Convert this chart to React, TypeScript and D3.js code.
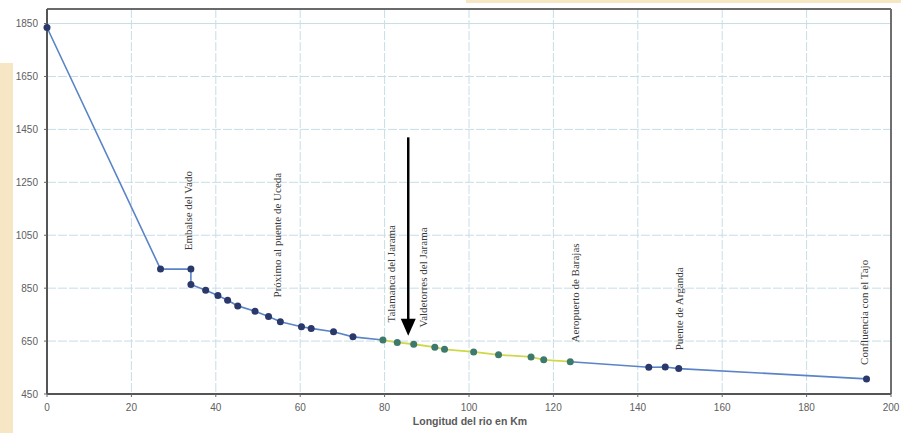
import React from "react";
import * as d3 from "d3";

// Distance along river (km) and elevation (m)
const kmBlue1 = [0, 26.9, 34.1, 34.1, 37.6, 40.5, 42.8, 45.2, 49.3, 52.5, 55.3, 60.3, 62.6, 67.9, 72.5, 79.6];
const elevBlue1 = [1835, 922, 922, 864, 842, 822, 804, 783, 763, 743, 723, 704, 698, 685, 666, 654];
const kmGreen = [79.6, 83.0, 86.9, 91.9, 94.2, 101.1, 107.0, 114.7, 117.7, 124.0];
const elevGreen = [654, 645, 638, 627, 619, 609, 598, 590, 579, 572];
const kmBlue2 = [124.0, 142.6, 146.5, 149.7, 194.2];
const elevBlue2 = [572, 551, 552, 546, 507];

const xTicks = [0, 20, 40, 60, 80, 100, 120, 140, 160, 180, 200];
const yTicks = [450, 650, 850, 1050, 1250, 1450, 1650, 1850];

const labelNames = [
  "Embalse del Vado",
  "Próximo al puente de Uceda",
  "Talamanca del Jarama",
  "Valdetorres del Jarama",
  "Aeropuerto de Barajas",
  "Puente de Arganda",
  "Confluencia con el Tajo",
];
const labelKm = [33.4, 54.4, 81.4, 89.0, 125.0, 149.8, 193.6];
const labelElev = [993, 815, 720, 701, 645, 615, 560];

const arrowKm = 85.6;
const arrowFrom = 1420;
const arrowTo = 670;

const xTitle = "Longitud del rio en Km";

export default function App() {
  const W = 901;
  const H = 433;
  const x = d3.scaleLinear().domain([0, 200]).range([47, 891]);
  const y = d3.scaleLinear().domain([450, 1905]).range([394, 9]);

  const line = d3
    .line<[number, number]>()
    .x((d) => x(d[0]))
    .y((d) => y(d[1]));

  const blue1 = kmBlue1.map((k, i) => [k, elevBlue1[i]] as [number, number]);
  const green = kmGreen.map((k, i) => [k, elevGreen[i]] as [number, number]);
  const blue2 = kmBlue2.map((k, i) => [k, elevBlue2[i]] as [number, number]);

  const gridColor = "#c6dee6";
  const lineBlue = "#5a84c6";
  const ptNavy = "#2b386c";
  const lineGreen = "#cfd84a";
  const ptGreen = "#3e7a6c";

  const ax = x(arrowKm);
  const ay1 = y(arrowFrom);
  const ay2 = y(arrowTo);

  return (
    <div style={{ position: "absolute", left: 0, top: 0, width: W, height: H, background: "#fff" }}>
      <svg width={W} height={H} style={{ display: "block" }}>
        <rect x={0} y={0} width={W} height={H} fill="#ffffff" />
        {/* beige scan edges */}
        <rect x={466} y={0} width={W - 466} height={3} fill="#f6e6c3" />

        {/* grid */}
        {xTicks.slice(1, -1).map((t) => (
          <line key={"gx" + t} x1={x(t)} x2={x(t)} y1={y(1905)} y2={y(450)} stroke={gridColor} strokeWidth={1} strokeDasharray="9,2" />
        ))}
        {yTicks.slice(1).map((t) => (
          <line key={"gy" + t} x1={x(0)} x2={x(200)} y1={y(t)} y2={y(t)} stroke={gridColor} strokeWidth={1} strokeDasharray={t === 1850 ? undefined : "9,2"} />
        ))}

        {/* frame */}
        <line x1={x(0)} x2={x(200)} y1={y(1905)} y2={y(1905)} stroke="#6a6a6a" strokeWidth={2} />
        <line x1={x(200)} x2={x(200)} y1={y(1905)} y2={y(450)} stroke="#6f6f6f" strokeWidth={2} />
        <line x1={x(0)} x2={x(0)} y1={y(1905)} y2={y(450)} stroke="#555" strokeWidth={2} />
        <line x1={x(0)} x2={x(200)} y1={y(450)} y2={y(450)} stroke="#555" strokeWidth={2} />

        {/* ticks */}
        {yTicks.map((t) => (
          <line key={"ty" + t} x1={x(0) - 3} x2={x(0)} y1={y(t)} y2={y(t)} stroke="#666" strokeWidth={1} />
        ))}
        {xTicks.map((t) => (
          <line key={"tx" + t} x1={x(t)} x2={x(t)} y1={y(450)} y2={y(450) + 3} stroke="#666" strokeWidth={1} />
        ))}

        {/* tick labels */}
        {yTicks.map((t) => (
          <text key={"ly" + t} x={38} y={y(t) + 3.5} textAnchor="end" fontFamily="Liberation Sans, Arial, sans-serif" fontSize={10} fill="#606060">
            {t}
          </text>
        ))}
        {xTicks.map((t) => (
          <text key={"lx" + t} x={x(t)} y={y(450) + 17} textAnchor="middle" fontFamily="Liberation Sans, Arial, sans-serif" fontSize={10} fill="#606060">
            {t}
          </text>
        ))}
        <text x={470} y={425} textAnchor="middle" fontFamily="Liberation Sans, Arial, sans-serif" fontSize={10.5} fontWeight="bold" fill="#5a5a5a">
          {xTitle}
        </text>

        {/* series lines */}
        <path d={line(blue1) || ""} fill="none" stroke={lineBlue} strokeWidth={1.6} />
        <path d={line(blue2) || ""} fill="none" stroke={lineBlue} strokeWidth={1.6} />
        <path d={line(green) || ""} fill="none" stroke={lineGreen} strokeWidth={1.8} />

        {/* points */}
        {blue1.slice(0, -1).map((d, i) => (
          <circle key={"pb1" + i} cx={x(d[0])} cy={y(d[1])} r={3.5} fill={ptNavy} />
        ))}
        {blue2.slice(1).map((d, i) => (
          <circle key={"pb2" + i} cx={x(d[0])} cy={y(d[1])} r={3.5} fill={ptNavy} />
        ))}
        {green.map((d, i) => (
          <circle key={"pg" + i} cx={x(d[0])} cy={y(d[1])} r={3.5} fill={ptGreen} />
        ))}

        {/* annotations */}
        {labelNames.map((name, i) => {
          const lx = x(labelKm[i]) + 4;
          const ly = y(labelElev[i]);
          return (
            <text key={"an" + i} transform={`translate(${lx},${ly}) rotate(-90)`} fontFamily="Liberation Serif, Times New Roman, serif" fontSize={11} fill="#3a3a3a">
              {name}
            </text>
          );
        })}

        {/* arrow */}
        <line x1={ax} x2={ax} y1={ay1} y2={ay2 - 15} stroke="#000" strokeWidth={2.5} />
        <path d={`M${ax - 7.5},${ay2 - 17} L${ax + 7.5},${ay2 - 17} L${ax},${ay2} Z`} fill="#000" />

        {/* left beige scan strip */}
        <rect x={0} y={63} width={13} height={H - 63} fill="#f6e6c3" />
      </svg>
    </div>
  );
}
